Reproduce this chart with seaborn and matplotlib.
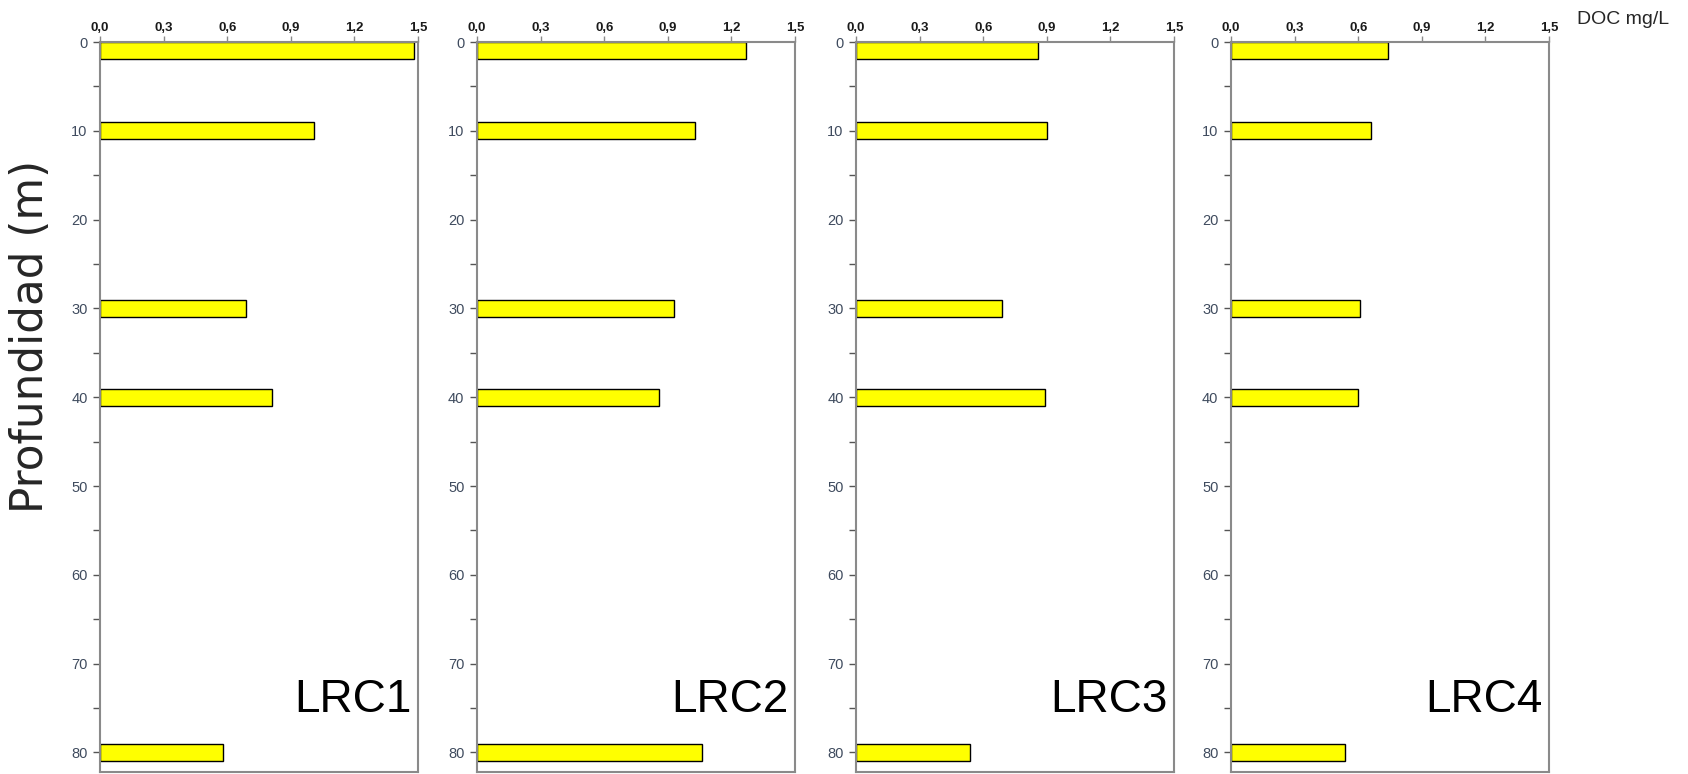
import matplotlib
matplotlib.use("Agg")
import matplotlib.pyplot as plt
from matplotlib.ticker import MultipleLocator, FixedLocator
import seaborn as sns
import pandas as pd

# Sampling depths (m) and dissolved organic carbon (mg/L) per station
depths = [1, 10, 30, 40, 80]
stations = ["LRC1", "LRC2", "LRC3", "LRC4"]
doc_lrc1 = [1.48, 1.01, 0.69, 0.81, 0.58]
doc_lrc2 = [1.27, 1.03, 0.93, 0.86, 1.06]
doc_lrc3 = [0.86, 0.90, 0.69, 0.89, 0.54]
doc_lrc4 = [0.74, 0.66, 0.61, 0.60, 0.54]
doc_values = [doc_lrc1, doc_lrc2, doc_lrc3, doc_lrc4]
x_ticks = [0.0, 0.3, 0.6, 0.9, 1.2, 1.5]
x_tick_labels = ["0,0", "0,3", "0,6", "0,9", "1,2", "1,5"]
y_ticks = [0, 10, 20, 30, 40, 50, 60, 70, 80]

sns.set_theme(style="white")
plt.rcParams["font.family"] = ["Liberation Sans", "DejaVu Sans"]

fig = plt.figure(figsize=(16.88, 7.74), dpi=100)
spine_color = "#8a8a8a"
lefts_px = [100, 477, 856, 1231]
W, H = 1688, 774
ax_w = 318 / W
ax_bottom = 2 / H
ax_h = (772 - 42) / H

for i, (name, vals) in enumerate(zip(stations, doc_values)):
    ax = fig.add_axes([lefts_px[i] / W, ax_bottom, ax_w, ax_h])
    df = pd.DataFrame({"depth": depths, "doc": vals})
    sns.barplot(data=df, x="doc", y="depth", orient="h", native_scale=True,
                width=1.9 / 9, color="#ffff00", saturation=1,
                edgecolor="black", linewidth=1.0, ax=ax, errorbar=None)
    ax.set_xlim(0, 1.5)
    ax.set_ylim(82.2, 0)
    ax.xaxis.set_ticks_position("top")
    ax.xaxis.set_label_position("top")
    ax.set_xticks(x_ticks)
    ax.set_xticklabels(x_tick_labels, fontsize=9.5, fontweight="bold", color="#1a1a1a")
    ax.yaxis.set_major_locator(FixedLocator(y_ticks))
    ax.yaxis.set_minor_locator(MultipleLocator(5))
    ax.set_yticklabels([str(v) for v in y_ticks], fontsize=10.5, color="#3f4b5e")
    ax.tick_params(axis="x", which="major", direction="out", length=4, width=1,
                   color=spine_color, pad=2, top=True, bottom=False)
    ax.tick_params(axis="y", which="both", direction="out", length=5, width=1,
                   color="#555555", left=True, right=False, pad=4)
    ax.set_xlabel("")
    ax.set_ylabel("")
    for s in ax.spines.values():
        s.set_color(spine_color)
        s.set_linewidth(1.5)
        s.set_visible(True)
    ax.text(1.47, 75.5, name, fontsize=33, ha="right", va="baseline", color="black")

# Shared depth label on the left edge
fig.text(31 / W, 1 - 336 / H, "Profundidad (m)", fontsize=31.5, rotation=90,
         ha="center", va="center", family=["DejaVu Sans"])
fig.text(1577 / W, 1 - 20 / H, "DOC mg/L", fontsize=14, ha="left", va="center")

fig.savefig("out.png", dpi=100)
